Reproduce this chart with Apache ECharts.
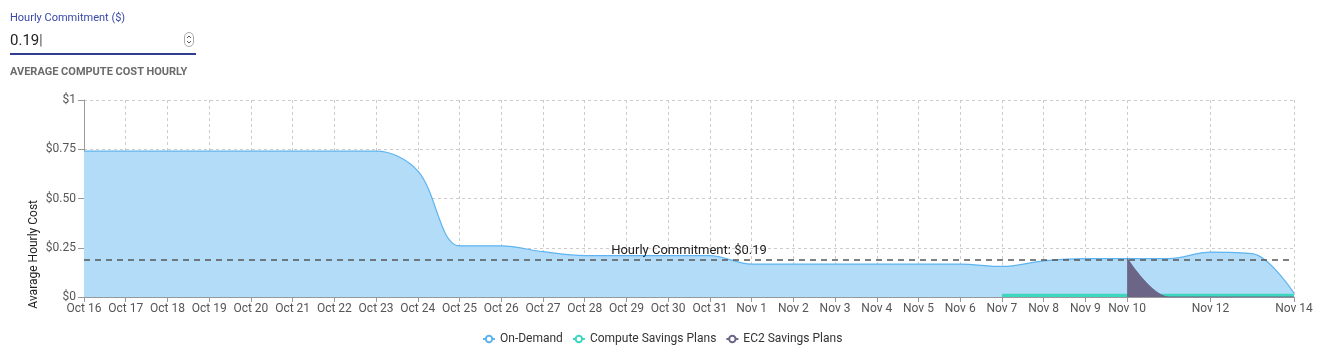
<!DOCTYPE html>
<html>
<head>
<meta charset="utf-8">
<script src="https://cdn.jsdelivr.net/npm/echarts@6/dist/echarts.min.js"></script>
<style>
  html, body { margin: 0; padding: 0; background: #fff; }
  body { width: 1328px; height: 351px; position: relative; overflow: hidden; font-family: Roboto, "Noto Sans", sans-serif; }
  #chart { position: absolute; left: 0; top: 0; width: 1328px; height: 351px; }
  .lbl { position: absolute; left: 10px; top: 11px; font-size: 11px; color: #3848a8; }
  .inp { position: absolute; left: 10px; top: 30px; width: 186px; height: 23px; border-bottom: 2px solid #2f3d93; font-size: 15px; color: #222; line-height: 20px; }
  .spin { position: absolute; right: 2px; top: 2px; }
  .ttl { position: absolute; left: 10px; top: 65px; font-size: 11px; font-weight: bold; color: #6b6b6b; }
</style>
</head>
<body>
<div id="chart"></div>
<div class="lbl">Hourly Commitment ($)</div>
<div class="inp">0.19<span style="font-weight:300;color:#000">|</span>
  <svg class="spin" width="10" height="15" viewBox="0 0 10 15"><rect x="0.5" y="0.5" width="9" height="14" rx="4.5" fill="none" stroke="#aaa"/><path d="M3 6 L5 4 L7 6 M3 9 L5 11 L7 9" fill="none" stroke="#555" stroke-width="1"/></svg>
</div>
<div class="ttl">AVERAGE COMPUTE COST HOURLY</div>
<script>
const categories = ['Oct 16','Oct 17','Oct 18','Oct 19','Oct 20','Oct 21','Oct 22','Oct 23','Oct 24','Oct 25','Oct 26','Oct 27','Oct 28','Oct 29','Oct 30','Oct 31','Nov 1','Nov 2','Nov 3','Nov 4','Nov 5','Nov 6','Nov 7','Nov 8','Nov 9','Nov 10','Nov 11','Nov 12','Nov 13','Nov 14'];
const hiddenLabels = ['Nov 11','Nov 13'];
const onDemand = [0.74,0.74,0.74,0.74,0.74,0.74,0.74,0.74,0.64,0.26,0.26,0.23,0.21,0.21,0.21,0.21,0.167,0.167,0.167,0.167,0.167,0.167,0.155,0.183,0.195,0.195,0.195,0.228,0.22,0.02];
const computeSP = [null,null,null,null,null,null,null,null,null,null,null,null,null,null,null,null,null,null,null,null,null,null,0.012,0.012,0.012,0.012,0.012,0.012,0.012,0.012];
const ec2SP = [null,null,null,null,null,null,null,null,null,null,null,null,null,null,null,null,null,null,null,null,null,null,null,null,null,0.195,0,0,0,0];
const hourlyCommitment = 0.19;
const yTicks = [0, 0.25, 0.5, 0.75, 1];

const showCat = (i, v) => hiddenLabels.indexOf(categories[i]) === -1;
const chart = echarts.init(document.getElementById('chart'));
chart.setOption({
  animation: false,
  textStyle: { fontFamily: 'Roboto' },
  grid: { left: 84, right: 34, top: 100, bottom: 54, containLabel: false },
  legend: {
    bottom: 1,
    left: 477,
    itemWidth: 12, itemHeight: 8, itemGap: 9,
    textStyle: { fontSize: 12, color: '#333' },
    data: ['On-Demand', 'Compute Savings Plans', 'EC2 Savings Plans']
  },
  graphic: [{
    type: 'text', left: 28, top: 200, rotation: Math.PI / 2,
    style: { text: 'Avarage Hourly Cost', fontSize: 12, fill: '#222', fontFamily: 'Roboto' }
  }],
  xAxis: {
    type: 'category', boundaryGap: false, data: categories,
    axisLine: { lineStyle: { color: '#999' } },
    axisTick: { interval: showCat, length: 5, lineStyle: { color: '#999' } },
    axisLabel: { interval: showCat, color: '#555', fontSize: 12, margin: 6 },
    splitLine: { show: true, interval: showCat, lineStyle: { color: '#ccc', type: [3, 3] } }
  },
  yAxis: {
    type: 'value', min: 0, max: 1, interval: 0.25,
    axisLine: { show: true, lineStyle: { color: '#999' } },
    axisTick: { show: true, length: 6, lineStyle: { color: '#999' } },
    axisLabel: { color: '#555', fontSize: 12, margin: 8,
      formatter: v => yTicks.indexOf(v) === 0 ? '$0' : (v === 1 ? '$1' : '$' + v.toFixed(2)) },
    splitLine: { show: true, lineStyle: { color: '#ccc', type: [3, 3] } }
  },
  series: [
    {
      name: 'On-Demand', type: 'line', data: onDemand, smooth: 0.35, showSymbol: false, symbol: 'emptyCircle', symbolSize: 5,
      itemStyle: { color: '#5db4f0' },
      lineStyle: { color: '#5db4f0', width: 1.2 },
      areaStyle: { color: '#b3dcf8', opacity: 1 },
      z: 2,
      markLine: {
        silent: true, symbol: 'none',
        lineStyle: { color: '#555', type: [6, 5], width: 1.5 },
        label: { position: 'insideMiddleTop', formatter: 'Hourly Commitment: $0.19', color: '#222', fontSize: 13, distance: 2 },
        data: [{ yAxis: hourlyCommitment }]
      }
    },
    {
      name: 'Compute Savings Plans', type: 'line', data: computeSP, smooth: 0.35, showSymbol: false, symbol: 'emptyCircle', symbolSize: 5,
      itemStyle: { color: '#3fd6bf' },
      lineStyle: { color: '#3fd6bf', width: 2 },
      areaStyle: { color: '#3fd6bf', opacity: 1 },
      z: 3
    },
    {
      name: 'EC2 Savings Plans', type: 'line', data: ec2SP, smooth: 0.35, showSymbol: false, symbol: 'emptyCircle', symbolSize: 5,
      itemStyle: { color: '#6b6688' },
      lineStyle: { color: '#6b6688', width: 1.2 },
      areaStyle: { color: '#6b6688', opacity: 1 },
      z: 4
    }
  ]
});
</script>
</body>
</html>
